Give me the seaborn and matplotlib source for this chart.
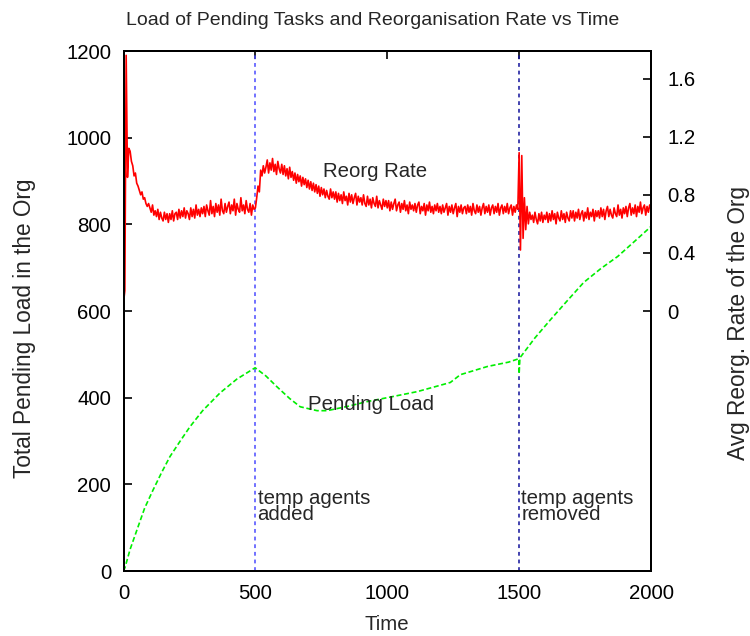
import matplotlib
matplotlib.use("Agg")
import matplotlib.pyplot as plt
import seaborn as sns
import numpy as np

# Pending load of the organisation (left axis)
load_time = [0, 6, 25, 51, 80, 112, 145, 176, 215, 252, 300, 366, 430, 499,
             540, 582, 630, 670, 734, 772, 850, 924, 1000, 1114, 1239, 1277,
             1380, 1460, 1499, 1500, 1503, 1560, 1619, 1680, 1745, 1810, 1874,
             1940, 2000]
load_value = [0, 9, 50, 95, 145, 187, 228, 264, 300, 333, 370, 411, 443, 469,
              450, 425, 398, 379, 370, 370, 380, 391, 400, 414, 435, 453,
              472, 482, 490, 455, 492, 538, 580, 622, 666, 698, 726,
              762, 795]

# Average reorganisation rate, sampled every 5 time units (right axis)
rate_step = 5
rate_value = [
    0.06, 0.14, 1.76, 0.92, 1.12, 1.10, 1.03, 1.00, 0.93, 0.95, 0.88, 0.86, 0.83, 0.80, 0.82, 0.77, 0.78, 0.74, 0.72, 0.74,
    0.71, 0.68, 0.73, 0.66, 0.69, 0.65, 0.70, 0.63, 0.68, 0.64, 0.62, 0.68, 0.63, 0.67, 0.61, 0.67, 0.63, 0.69, 0.62, 0.67,
    0.68, 0.63, 0.70, 0.64, 0.69, 0.65, 0.71, 0.64, 0.69, 0.67, 0.63, 0.71, 0.65, 0.70, 0.64, 0.73, 0.66, 0.70, 0.65, 0.71,
    0.67, 0.72, 0.65, 0.73, 0.69, 0.66, 0.76, 0.67, 0.72, 0.65, 0.74, 0.68, 0.73, 0.66, 0.77, 0.69, 0.67, 0.74, 0.68, 0.72,
    0.75, 0.67, 0.73, 0.69, 0.77, 0.66, 0.74, 0.70, 0.68, 0.78, 0.69, 0.73, 0.67, 0.76, 0.70, 0.68, 0.74, 0.66, 0.73, 0.70,
    0.71, 0.78, 0.86, 0.82, 0.97, 0.93, 1.00, 0.95, 0.99, 1.04, 0.95, 1.02, 0.97, 1.05, 0.96, 1.01, 0.94, 1.03, 0.98, 0.95,
    1.01, 0.94, 1.00, 0.93, 0.98, 0.91, 0.99, 0.92, 0.96, 0.90, 0.95, 0.88, 0.94, 0.89, 0.93, 0.86, 0.92, 0.87, 0.91, 0.85,
    0.90, 0.84, 0.89, 0.83, 0.88, 0.82, 0.87, 0.81, 0.86, 0.79, 0.85, 0.80, 0.84, 0.78, 0.83, 0.79, 0.77, 0.84, 0.78, 0.82,
    0.77, 0.82, 0.75, 0.81, 0.76, 0.80, 0.74, 0.82, 0.76, 0.79, 0.73, 0.81, 0.75, 0.80, 0.74, 0.78, 0.81, 0.73, 0.79, 0.75,
    0.78, 0.73, 0.80, 0.74, 0.72, 0.79, 0.73, 0.77, 0.71, 0.78, 0.74, 0.72, 0.79, 0.71, 0.76, 0.73, 0.70, 0.77, 0.72, 0.76,
    0.71, 0.76, 0.69, 0.75, 0.70, 0.74, 0.77, 0.69, 0.73, 0.75, 0.68, 0.74, 0.70, 0.76, 0.69, 0.73, 0.67, 0.75, 0.70, 0.73,
    0.69, 0.74, 0.68, 0.73, 0.75, 0.67, 0.72, 0.69, 0.74, 0.66, 0.73, 0.69, 0.75, 0.68, 0.72, 0.67, 0.73, 0.69, 0.74, 0.68,
    0.72, 0.67, 0.73, 0.68, 0.71, 0.74, 0.66, 0.72, 0.68, 0.73, 0.67, 0.71, 0.74, 0.65, 0.72, 0.68, 0.73, 0.67, 0.71, 0.72,
    0.67, 0.73, 0.68, 0.72, 0.66, 0.74, 0.69, 0.67, 0.73, 0.68, 0.72, 0.66, 0.71, 0.74, 0.67, 0.72, 0.68, 0.73, 0.66, 0.71,
    0.73, 0.67, 0.72, 0.68, 0.74, 0.66, 0.71, 0.73, 0.67, 0.72, 0.68, 0.74, 0.67, 0.71, 0.73, 0.66, 0.72, 0.68, 0.73, 0.70,
    1.09, 0.42, 1.07, 0.50, 0.78, 0.56, 0.72, 0.60, 0.68, 0.63, 0.66, 0.61, 0.68, 0.63, 0.60, 0.67, 0.62, 0.68, 0.61, 0.66,
    0.63, 0.68, 0.61, 0.67, 0.62, 0.69, 0.63, 0.67, 0.60, 0.68, 0.64, 0.62, 0.69, 0.63, 0.67, 0.61, 0.68, 0.64, 0.62, 0.69,
    0.64, 0.69, 0.62, 0.68, 0.64, 0.70, 0.63, 0.67, 0.69, 0.62, 0.68, 0.64, 0.71, 0.63, 0.68, 0.65, 0.70, 0.62, 0.69, 0.65,
    0.69, 0.64, 0.71, 0.65, 0.70, 0.63, 0.69, 0.72, 0.65, 0.70, 0.66, 0.64, 0.71, 0.67, 0.65, 0.73, 0.66, 0.70, 0.64, 0.71,
    0.67, 0.72, 0.65, 0.71, 0.74, 0.66, 0.71, 0.67, 0.73, 0.65, 0.72, 0.68, 0.75, 0.67, 0.71, 0.73, 0.66, 0.72, 0.68, 0.73, 0.70,
]
rate_time = [i * rate_step for i in range(len(rate_value))]

# Events and annotations
event_times = [500, 1500]
event_colors = ["#4a4aff", "#10109a"]
event_labels = ["temp agents\nadded", "temp agents\nremoved"]

x_ticks = [0, 500, 1000, 1500, 2000]
y_ticks = [0, 200, 400, 600, 800, 1000, 1200]
y2_ticks = [0, 0.4, 0.8, 1.2, 1.6]

sns.set_style("white")
plt.rcParams["font.family"] = ["Liberation Sans", "DejaVu Sans"]

FS = 14.7
FS_Y = 16.3

fig = plt.figure(figsize=(7.5, 6.36), dpi=100)
ax = fig.add_axes([0.1647, 0.1022, 0.7033, 0.8176])
ax2 = ax.twinx()

for t, c in zip(event_times, event_colors):
    ax.axvline(t, color=c, lw=1.1, linestyle=(0, (2.5, 2.5)), zorder=1)

sns.lineplot(x=load_time, y=load_value, ax=ax, color="#00ee00", lw=1.2,
             linestyle=(0, (3, 1.6)), estimator=None, zorder=3)
sns.lineplot(x=rate_time, y=rate_value, ax=ax2, color="#ff0000", lw=1.2,
             estimator=None)

ax.set_xlim(0, 2000)
ax.set_ylim(0, 1200)
ax2.set_ylim(-1.79, 1.79)
ax.set_xticks(x_ticks)
ax.set_yticks(y_ticks)
ax2.set_yticks(y2_ticks)
ax2.set_yticklabels(["0", "0.4", "0.8", "1.2", "1.6"])

ax.tick_params(axis="both", direction="in", length=6, width=1.2, colors="black",
               labelsize=FS, pad=9, top=True, right=False)
ax2.tick_params(axis="y", direction="in", length=6, width=1.2, colors="black",
                labelsize=FS, pad=12)
for a in (ax, ax2):
    for sp in a.spines.values():
        sp.set_color("black")
        sp.set_linewidth(1.4)

ax.set_xlabel("Time", fontsize=FS, labelpad=9)
ax.set_ylabel("Total Pending Load in the Org", fontsize=FS_Y, va="center")
ax.yaxis.set_label_coords(-0.187, 0.466)
ax2.set_ylabel("Avg Reorg. Rate of the Org", fontsize=FS_Y, va="center")
ax2.yaxis.set_label_coords(1.165, 0.476)
ax.set_title("Load of Pending Tasks and Reorganisation Rate vs Time",
             fontsize=14.0, pad=19, x=0.472)

ax.text(755, 922, "Reorg Rate", fontsize=FS, va="center", ha="left")
ax.text(700, 384, "Pending Load", fontsize=FS, va="center", ha="left")
for t, lab in zip(event_times, event_labels):
    ax.text(t + 8, 149, lab, fontsize=FS, va="center", ha="left",
            linespacing=0.82)

fig.savefig("out.png", dpi=100)
